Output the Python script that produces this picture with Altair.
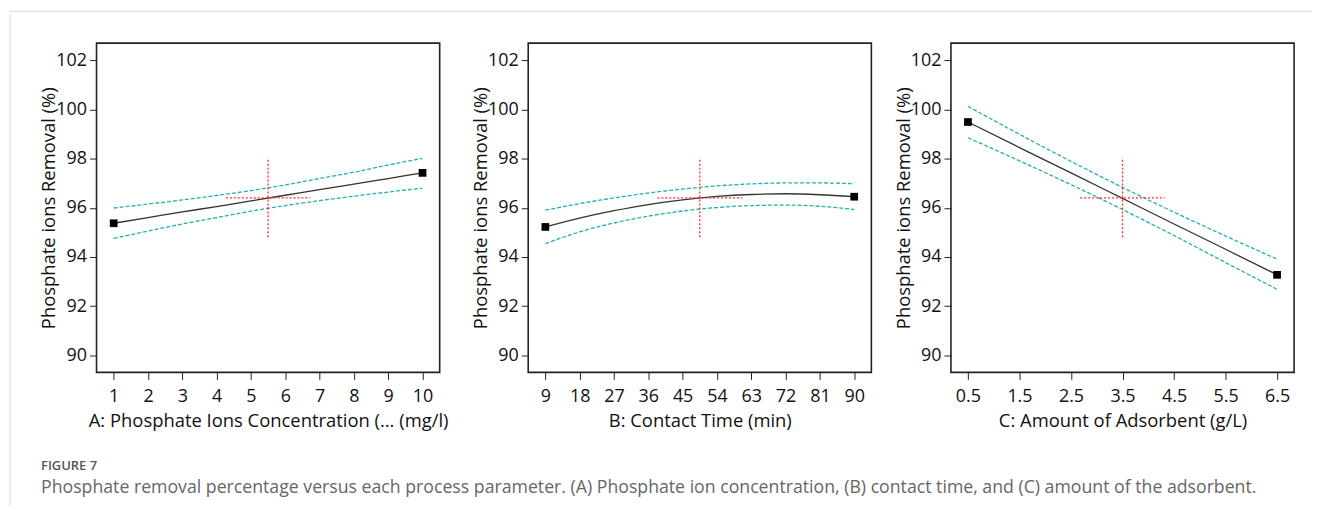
import altair as alt
import pandas as pd

FONT = "Open Sans"
TEAL = "#22b0b0"
RED = "#ff2a2a"
LINE = "#333333"
BORDER = "#d6d6d6"

Y_TITLE = "Phosphate ions Removal (%)"
Y_TICKS = [90, 92, 94, 96, 98, 100, 102]
Y_DOMAIN = [89.3, 102.7]

# Panel A: phosphate ions concentration
A_x = [1, 2, 3, 4, 5, 6, 7, 8, 9, 10]
A_fit = [95.37, 95.60, 95.83, 96.05, 96.28, 96.51, 96.74, 96.96, 97.19, 97.42]
A_upper = [95.99, 96.15, 96.32, 96.50, 96.70, 96.93, 97.19, 97.45, 97.74, 98.01]
A_lower = [94.75, 95.05, 95.34, 95.60, 95.86, 96.09, 96.29, 96.47, 96.64, 96.80]
A_center = [5.5, 96.4]
A_hspan = [4.27, 6.73]
A_domain = [0.5, 10.5]
A_title = "A: Phosphate Ions Concentration (... (mg/l)"

# Panel B: contact time
B_x = [9, 18, 27, 36, 45, 54, 63, 72, 81, 90]
B_fit = [95.22, 95.58, 95.88, 96.13, 96.32, 96.46, 96.54, 96.57, 96.53, 96.45]
B_upper = [95.90, 96.17, 96.40, 96.60, 96.76, 96.89, 96.97, 97.01, 97.01, 96.98]
B_lower = [94.54, 95.02, 95.38, 95.66, 95.87, 96.01, 96.09, 96.11, 96.06, 95.93]
B_center = [49.5, 96.4]
B_hspan = [38.4, 60.6]
B_domain = [4.5, 94.5]
B_title = "B: Contact Time (min)"

# Panel C: amount of adsorbent
C_x = [0.5, 1.5, 2.5, 3.5, 4.5, 5.5, 6.5]
C_fit = [99.49, 98.45, 97.42, 96.38, 95.34, 94.31, 93.27]
C_upper = [100.13, 98.99, 97.89, 96.83, 95.82, 94.85, 93.91]
C_lower = [98.85, 97.91, 96.94, 95.93, 94.87, 93.77, 92.68]
C_center = [3.5, 96.4]
C_hspan = [2.68, 4.32]
C_domain = [0.17, 6.83]
C_title = "C: Amount of Adsorbent (g/L)"

V_SPAN = [94.8, 98.05]

CAPTION_HEAD = "FIGURE 7"
CAPTION = ("Phosphate removal percentage versus each process parameter. (A) Phosphate ion "
           "concentration, (B) contact time, and (C) amount of the adsorbent.")

PW, PH = 345, 331


def panel(xs, fit, up, lo, domain, title, center, hspan, fmt):
    df = pd.DataFrame({"x": xs, "fit": fit, "upper": up, "lower": lo})
    xscale = alt.Scale(domain=domain, nice=False, zero=False)
    yscale = alt.Scale(domain=Y_DOMAIN, nice=False, zero=False)
    xaxis = alt.Axis(values=xs, title=title, format=fmt, labelPadding=8, titlePadding=6)
    yaxis = alt.Axis(values=Y_TICKS, title=Y_TITLE, labelPadding=3, titlePadding=-2,
                     minExtent=40, maxExtent=40)

    def X(f):
        return alt.X(f, type="quantitative", scale=xscale, axis=xaxis)

    def Y(f):
        return alt.Y(f, type="quantitative", scale=yscale, axis=yaxis)

    base = alt.Chart(df)
    up_l = base.mark_line(color=TEAL, strokeDash=[4, 2], strokeWidth=1.3,
                          interpolate="monotone").encode(x=X("x"), y=Y("upper"))
    lo_l = base.mark_line(color=TEAL, strokeDash=[4, 2], strokeWidth=1.3,
                          interpolate="monotone").encode(x=X("x"), y=Y("lower"))
    fit_l = base.mark_line(color=LINE, strokeWidth=1.3,
                           interpolate="monotone").encode(x=X("x"), y=Y("fit"))
    ends = alt.Chart(df.iloc[[0, -1]]).mark_square(size=60, color="black", opacity=1).encode(
        x=X("x"), y=Y("fit"))
    vdf = pd.DataFrame({"x": [center[0]], "y": [V_SPAN[0]], "y2": [V_SPAN[1]]})
    vr = alt.Chart(vdf).mark_rule(color=RED, strokeDash=[2, 2], strokeWidth=1.3).encode(
        x=X("x"), y=Y("y"), y2="y2")
    hdf = pd.DataFrame({"x": [hspan[0]], "x2": [hspan[1]], "y": [center[1]]})
    hr = alt.Chart(hdf).mark_rule(color=RED, strokeDash=[2, 2], strokeWidth=1.3).encode(
        x=X("x"), x2="x2", y=Y("y"))
    return alt.layer(up_l, lo_l, fit_l, vr, hr, ends).properties(width=PW, height=PH)


pA = panel(A_x, A_fit, A_upper, A_lower, A_domain, A_title, A_center, A_hspan, "d")
pB = panel(B_x, B_fit, B_upper, B_lower, B_domain, B_title, B_center, B_hspan, "d")
pC = panel(C_x, C_fit, C_upper, C_lower, C_domain, C_title, C_center, C_hspan, ".1f")

panels = alt.hconcat(pA, pB, pC, spacing=21).properties(
    title=alt.TitleParams(
        text=CAPTION_HEAD, subtitle=CAPTION, orient="bottom", anchor="start",
        frame="bounds", offset=30, dx=2,
        font=FONT, fontSize=13, fontWeight=600, color="#555555",
        subtitleFont=FONT, subtitleFontSize=17.8, subtitleColor="#666666",
        subtitlePadding=6,
    )
)

dummy = pd.DataFrame({"a": [0]})
no_frame = alt.ViewBackground(strokeOpacity=0)

left_strip = alt.Chart(dummy).mark_rule(color=BORDER, strokeWidth=1).encode(
    x=alt.value(2), y=alt.value(-30), y2=alt.value(465)
).properties(width=4, height=PH, view=no_frame)

top_rule = alt.Chart(dummy).mark_rule(color=BORDER, strokeWidth=1).encode(
    x=alt.value(2), x2=alt.value(1310), y=alt.value(2)
).properties(width=1290, height=2, view=no_frame)

chart = alt.vconcat(
    top_rule,
    alt.hconcat(left_strip, panels, spacing=27),
    spacing=0,
).properties(padding=0, background="white").configure_view(
    stroke="#222222", strokeWidth=1.6
).configure_axis(
    domain=False, grid=False, tickColor="#222222", tickSize=7, tickWidth=1,
    labelFont=FONT, labelFontSize=18, labelColor="#111111",
    titleFont=FONT, titleFontSize=18.5, titleFontWeight="normal", titleColor="#111111",
)

chart.save("out.html", embed_options={"renderer": "svg", "actions": False})
